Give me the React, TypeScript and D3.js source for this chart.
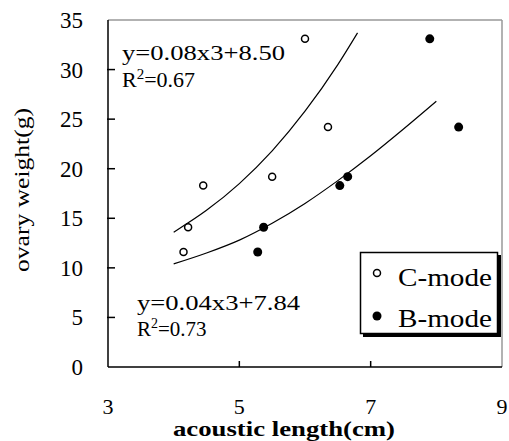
import React from "react";
import * as d3 from "d3";

// scatter points
const cLength = [4.15, 4.22, 4.45, 5.5, 6.35, 6.0];
const cWeight = [11.6, 14.1, 18.3, 19.2, 24.2, 33.1];
const bLength = [5.28, 5.37, 6.53, 6.65, 7.9, 8.34];
const bWeight = [11.6, 14.1, 18.3, 19.2, 33.1, 24.2];

// trend curves, read at a few x positions
const cFitX = [4.0, 4.5, 5.0, 5.5, 6.0, 6.5, 6.8];
const cFitY = [13.6, 15.8, 18.5, 21.8, 25.8, 30.5, 33.7];
const bFitX = [4.0, 4.5, 5.0, 5.5, 6.0, 6.5, 7.0, 7.5, 8.0];
const bFitY = [10.4, 11.5, 12.8, 14.5, 16.5, 18.8, 21.3, 24.0, 26.8];

const xTicks = [3, 5, 7, 9];
const yTicks = [0, 5, 10, 15, 20, 25, 30, 35];
const seriesNames = ["C-mode", "B-mode"];

const W = 509;
const H = 441;
const font = "Liberation Serif, Tinos, Times New Roman, Times, Nimbus Roman, serif";

export default function App() {
  const x = d3.scaleLinear().domain([3, 9]).range([108, 502]);
  const y = d3.scaleLinear().domain([0, 35]).range([367, 20]);

  const line = d3
    .line<[number, number]>()
    .x((d) => x(d[0]))
    .y((d) => y(d[1]))
    .curve(d3.curveMonotoneX);

  const cFit = cFitX.map((v, i) => [v, cFitY[i]] as [number, number]);
  const bFit = bFitX.map((v, i) => [v, bFitY[i]] as [number, number]);

  return (
    <svg
      width={W}
      height={H}
      style={{ position: "absolute", left: 0, top: 0, background: "#fff", fontFamily: font }}
    >
      <rect width={W} height={H} fill="#fff" />
      {/* frame: grey top/right, black axes */}
      <line x1={x(3)} x2={x(9)} y1={y(35)} y2={y(35)} stroke="#999" strokeWidth={1.5} />
      <line x1={x(9)} x2={x(9)} y1={y(35)} y2={y(0)} stroke="#999" strokeWidth={1.5} />
      <line x1={x(3)} x2={x(3)} y1={y(35)} y2={y(0)} stroke="#000" strokeWidth={1.5} />
      <line x1={x(3)} x2={x(9)} y1={y(0)} y2={y(0)} stroke="#000" strokeWidth={1.5} />

      {yTicks.map((t) => (
        <g key={"y" + t}>
          {t > 0 && t < 35 && (
            <line x1={x(3) - 1} x2={x(3) + 7} y1={y(t)} y2={y(t)} stroke="#000" strokeWidth={1.5} />
          )}
          <text x={83} y={y(t) + 8} fontSize={23} textAnchor="end">
            {t}
          </text>
        </g>
      ))}
      {xTicks.map((t) => (
        <g key={"x" + t}>
          {t > 3 && t < 9 && (
            <line x1={x(t)} x2={x(t)} y1={y(0)} y2={y(0) - 6} stroke="#000" strokeWidth={1.5} />
          )}
          <text x={x(t)} y={414} fontSize={22} textAnchor="middle">
            {t}
          </text>
        </g>
      ))}

      <text
        x={284}
        y={436}
        fontSize={21}
        fontWeight="bold"
        textAnchor="middle"
        textLength={222}
        lengthAdjust="spacingAndGlyphs"
      >
        acoustic length(cm)
      </text>
      <text
        transform="translate(29,190) rotate(-90)"
        fontSize={21}
        textAnchor="middle"
        textLength={164}
        lengthAdjust="spacingAndGlyphs"
      >
        ovary weight(g)
      </text>

      {/* fit curves */}
      <path d={line(cFit) ?? ""} fill="none" stroke="#000" strokeWidth={1.2} />
      <path d={line(bFit) ?? ""} fill="none" stroke="#000" strokeWidth={1.2} />

      {/* equations */}
      <text x={122} y={60} fontSize={22} textLength={163} lengthAdjust="spacingAndGlyphs">
        y=0.08x3+8.50
      </text>
      <text x={122} y={87} fontSize={22}>
        R<tspan dy={-8} fontSize={15}>2</tspan>
        <tspan dy={8}>=0.67</tspan>
      </text>
      <text x={137} y={310} fontSize={21} textLength={163} lengthAdjust="spacingAndGlyphs">
        y=0.04x3+7.84
      </text>
      <text x={137} y={336} fontSize={21}>
        R<tspan dy={-8} fontSize={14}>2</tspan>
        <tspan dy={8}>=0.73</tspan>
      </text>

      {/* points */}
      {cLength.map((v, i) => (
        <circle key={"c" + i} cx={x(v)} cy={y(cWeight[i])} r={3.5} fill="#fff" stroke="#000" strokeWidth={1.5} />
      ))}
      {bLength.map((v, i) => (
        <circle key={"b" + i} cx={x(v)} cy={y(bWeight[i])} r={4.5} fill="#000" />
      ))}

      {/* legend */}
      <g>
        <rect x={363} y={255} width={138} height={82} fill="#000" />
        <rect x={360.5} y={252.5} width={137} height={81} fill="#fff" stroke="#000" strokeWidth={1.5} />
        <circle cx={377} cy={273} r={3.5} fill="#fff" stroke="#000" strokeWidth={1.5} />
        <text x={398} y={286} fontSize={25} textLength={94} lengthAdjust="spacingAndGlyphs">
          {seriesNames[0]}
        </text>
        <circle cx={377} cy={316} r={4.5} fill="#000" />
        <text x={398} y={327} fontSize={25} textLength={94} lengthAdjust="spacingAndGlyphs">
          {seriesNames[1]}
        </text>
      </g>
    </svg>
  );
}
